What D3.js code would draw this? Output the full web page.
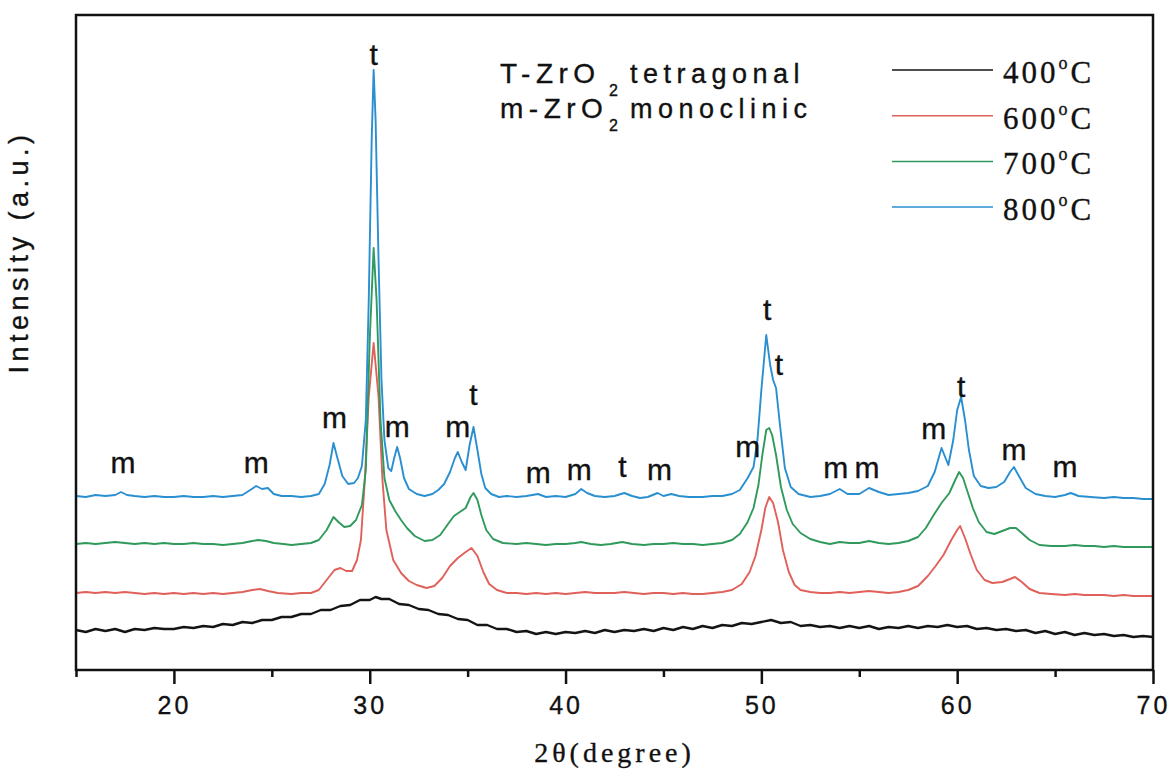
<!DOCTYPE html>
<html>
<head>
<meta charset="utf-8">
<script src="https://cdn.jsdelivr.net/npm/d3@7"></script>
<style>
  body { margin: 0; background: #fff; }
  text { font-family: "Liberation Sans", Arial, sans-serif; fill: #111; stroke: #111; stroke-width: 0.35; }
  .serif { font-family: "Liberation Serif", "Times New Roman", serif; }
</style>
</head>
<body>
<div id="chart"></div>
<script>
// series: [2theta, intensity (a.u.)]
var s400 = [[15,40],[15.5,38],[16,41],[16.5,39],[17,41],[17.5,38],[18,41],[18.5,40],[19,42],[19.5,41],
  [20,41],[20.5,43],[21,42],[21.5,44],[22,43],[22.5,46],[23,45],[23.5,48],[24,47],[24.5,50],[25,50],
  [25.5,53],[26,53],[26.5,56],[27,56],[27.5,60],[28,60],[28.5,64],[29,65],[29.5,70],[30,70],[30.3,73],
  [30.6,71],[31,71],[31.5,66],[32,65],[32.5,61],[33,60],[33.5,56],[34,55],[34.5,51],[35,50],[35.5,45],
  [36,45],[36.5,41],[37,41],[37.5,38],[38,39],[38.5,36],[39,38],[39.5,36],[40,38],[40.5,37],[41,39],
  [41.5,37],[42,40],[42.5,38],[43,40],[43.5,39],[44,41],[44.5,39],[45,42],[45.5,40],[46,43],[46.5,41],
  [47,44],[47.5,42],[48,45],[48.5,44],[49,47],[49.5,46],[50,48],[50.5,50],[51,47],[51.5,48],[52,44],
  [52.5,45],[53,43],[53.5,44],[54,42],[54.5,44],[55,42],[55.5,44],[56,41],[56.5,43],[57,42],[57.5,44],
  [58,42],[58.5,44],[59,43],[59.5,45],[60,43],[60.5,44],[61,41],[61.5,42],[62,40],[62.5,41],[63,39],
  [63.5,40],[64,37],[64.5,39],[65,36],[65.5,38],[66,35],[66.5,37],[67,35],[67.5,36],[68,34],[68.5,35],
  [69,33],[69.5,34],[70,33]];

var s600 = [[15,77],[15.5,78],[16,77],[16.5,78],[17,77],[17.5,78],[18,77],[18.5,76],[19,77],[19.5,76],
  [20,77],[20.5,76],[21,77],[21.5,76],[22,77],[22.5,76],[23,77],[23.5,78],[24,80],[24.4,81],[24.8,79],
  [25.3,77],[26,76],[26.5,77],[27,77],[27.4,80],[27.8,90],[28.2,100],[28.5,102],[28.8,99],[29.1,99],
  [29.35,110],[29.55,130],[29.75,190],[29.95,273],[30.2,327],[30.45,273],[30.65,190],[30.85,140],
  [31.2,110],[31.6,97],[32,89],[32.4,85],[32.9,82],[33.3,84],[33.7,92],[34.1,104],[34.5,112],[34.9,118],
  [35.2,122],[35.5,114],[35.8,98],[36.1,86],[36.5,80],[37,77],[37.5,77],[38,76],[38.5,77],[39,76],
  [39.5,77],[40,76],[40.5,77],[41,78],[41.5,77],[42,77],[42.5,77],[43,78],[43.5,77],[44,76],[44.5,77],
  [45,77],[45.5,76],[46,77],[46.5,76],[47,76],[47.5,77],[48,78],[48.5,80],[49,86],[49.4,98],[49.7,114],
  [50,140],[50.2,162],[50.4,173],[50.6,167],[50.85,148],[51.1,120],[51.4,98],[51.7,85],[52,80],[52.5,78],
  [53,77],[53.5,77],[54,78],[54.5,77],[55,78],[55.5,79],[56,78],[56.5,77],[57,78],[57.5,80],[58,84],
  [58.5,94],[58.9,104],[59.3,115],[59.7,130],[60,140],[60.15,144],[60.4,132],[60.7,115],[61,100],
  [61.4,90],[61.8,87],[62.3,88],[62.7,91],[62.95,93],[63.3,88],[63.7,81],[64.2,77],[64.8,76],[65.5,75],
  [66,76],[66.5,75],[67,75],[67.5,75],[68,74],[68.5,75],[69,74],[69.5,74],[70,74]];

var s700 = [[15,126],[15.5,127],[16,126],[16.5,127],[17,128],[17.5,127],[18,126],[18.5,127],[19,126],
  [19.5,127],[20,126],[20.5,126],[21,127],[21.5,126],[22,126],[22.5,125],[23,126],[23.5,127],[24,129],
  [24.3,130],[24.7,129],[25.1,127],[25.6,126],[26,125],[26.5,126],[27,127],[27.4,130],[27.8,140],
  [28.15,153],[28.4,148],[28.7,143],[29,144],[29.3,150],[29.6,165],[29.8,200],[30,330],[30.2,422],
  [30.35,370],[30.55,250],[30.75,192],[31,170],[31.3,159],[31.6,150],[31.9,142],[32.3,134],[32.8,129],
  [33.2,130],[33.6,135],[34,146],[34.3,154],[34.6,158],[34.9,162],[35.15,173],[35.3,177],[35.5,170],
  [35.7,155],[35.95,140],[36.3,131],[36.8,127],[37.5,126],[38,127],[38.5,126],[39,125],[39.5,126],
  [40,126],[40.5,127],[40.8,128],[41.3,126],[41.8,125],[42.3,126],[42.9,128],[43.4,126],[44,125],
  [44.5,126],[45,126],[45.5,127],[46,126],[46.5,126],[47,125],[47.5,126],[48,127],[48.5,130],[48.9,136],
  [49.3,148],[49.6,162],[49.85,185],[50.05,215],[50.25,240],[50.4,242],[50.55,235],[50.75,215],
  [51,183],[51.3,160],[51.6,146],[52,137],[52.5,131],[53,128],[53.5,126],[54,128],[54.5,127],[55,127],
  [55.5,129],[56,127],[56.5,126],[57,127],[57.5,129],[58,133],[58.4,142],[58.8,155],[59.2,167],
  [59.6,177],[59.9,190],[60.1,198],[60.3,192],[60.5,180],[60.8,162],[61.1,148],[61.5,138],[61.9,136],
  [62.3,139],[62.7,142],[63,142],[63.3,137],[63.7,130],[64.2,125],[64.8,124],[65.5,124],[66,125],
  [66.5,124],[67,124],[67.5,123],[68,124],[68.5,123],[69,123],[69.5,123],[70,123]];

var s800 = [[15,174],[15.5,173],[16,175],[16.5,174],[17,175],[17.3,178],[17.6,175],[18,174],[18.5,173],
  [19,174],[19.5,173],[20,173],[20.5,174],[21,173],[21.5,173],[22,174],[22.5,173],[23,174],[23.5,175],
  [23.9,180],[24.2,184],[24.5,181],[24.8,182],[25.1,176],[25.5,174],[26,174],[26.5,173],[27,174],
  [27.4,176],[27.7,186],[27.95,205],[28.15,227],[28.35,212],[28.6,194],[28.9,186],[29.2,187],[29.4,192],
  [29.6,204],[29.8,250],[29.95,370],[30.1,530],[30.2,600],[30.3,550],[30.45,410],[30.6,290],[30.75,230],
  [30.95,202],[31.1,199],[31.25,212],[31.4,223],[31.55,212],[31.75,192],[32,181],[32.4,176],[32.8,174],
  [33.2,176],[33.5,180],[33.8,186],[34.1,198],[34.35,212],[34.5,218],[34.7,208],[34.9,200],[35.1,225],
  [35.3,243],[35.5,220],[35.7,196],[35.9,182],[36.2,176],[36.6,173],[37,174],[37.5,173],[38,174],
  [38.6,176],[39,173],[39.5,174],[40,173],[40.5,176],[40.8,181],[41.1,177],[41.5,174],[42,173],
  [42.5,174],[43,177],[43.4,174],[43.8,172],[44.2,173],[44.7,177],[45,174],[45.4,176],[45.8,174],
  [46.3,173],[47,173],[47.5,174],[48,174],[48.5,176],[48.9,180],[49.3,192],[49.6,203],[49.8,230],
  [50,280],[50.25,335],[50.45,305],[50.6,290],[50.75,282],[50.95,245],[51.2,202],[51.5,183],[51.9,176],
  [52.5,173],[53,174],[53.5,176],[54,181],[54.4,176],[55,176],[55.5,182],[56,178],[56.5,175],[57,176],
  [57.5,177],[58,179],[58.5,184],[58.85,198],[59.2,222],[59.55,205],[59.8,230],[60,260],[60.2,273],
  [60.4,250],[60.6,220],[60.85,194],[61.2,184],[61.6,182],[62,183],[62.4,188],[62.7,198],[62.9,203],
  [63.15,194],[63.5,182],[64,176],[64.5,174],[65,173],[65.5,175],[65.8,177],[66.2,174],[66.8,173],
  [67.5,172],[68,173],[68.5,172],[69,172],[69.5,171],[70,171]];

var seriesNames = ["400°C", "600°C", "700°C", "800°C"];
var seriesData = [s400, s600, s700, s800];
var seriesColors = ["#141414", "#e0605a", "#2f9a5c", "#2a8fd0"];

var majorTicks = [20, 30, 40, 50, 60, 70];
var minorTicks = [15, 25, 35, 45, 55, 65];

// peak labels: [2theta, intensity where label sits, phase]
var peakLabels = [[17.4,197,"m"],[24.2,197,"m"],[28.2,242,"m"],[31.4,233,"m"],[34.5,233,"m"],
  [35.3,265,"t"],[30.2,605,"t"],[38.6,187,"m"],[40.7,190,"m"],[42.9,193,"t"],[44.8,190,"m"],
  [49.3,213,"m"],[50.3,350,"t"],[50.9,295,"t"],[53.8,192,"m"],[55.4,192,"m"],[58.8,231,"m"],
  [60.2,273,"t"],[62.9,210,"m"],[65.5,193,"m"]];

// phase notes: formula, phase name
var notes = [["T-ZrO", "tetragonal"], ["m-ZrO", "monoclinic"]];

var margin = {top: 15, right: 16, bottom: 99, left: 76},
    width = 1169 - margin.left - margin.right,
    height = 769 - margin.top - margin.bottom;

var svg = d3.select("#chart")
  .append("svg")
    .attr("width", 1169)
    .attr("height", 769)
  .append("g")
    .attr("transform", "translate(" + margin.left + "," + margin.top + ")");

var x = d3.scaleLinear()
    .domain([15, 70])
    .range([0, width]);

var y = d3.scaleLinear()
    .domain([0, 655])
    .range([height, 0]);

// minor ticks
svg.append("g")
  .attr("transform", "translate(0," + height + ")")
  .call(d3.axisBottom(x).tickValues(minorTicks).tickSize(7).tickFormat(""))
  .call(function(g) { g.select(".domain").remove(); })
  .selectAll("line").attr("stroke", "#111").attr("stroke-width", 2.5);

// major ticks + labels
var xAxis = svg.append("g")
  .attr("transform", "translate(0," + height + ")")
  .call(d3.axisBottom(x).tickValues(majorTicks).tickSize(14).tickPadding(12).tickFormat(d3.format("d")))
  .call(function(g) { g.select(".domain").remove(); });
xAxis.selectAll("line").attr("stroke", "#111").attr("stroke-width", 2.5);
xAxis.selectAll("text")
  .attr("font-family", "'Liberation Sans', Arial, sans-serif")
  .attr("font-size", 25)
  .attr("letter-spacing", 3)
  .attr("fill", "#111");

// curves
var line = d3.line()
  .x(function(d) { return x(d[0]) })
  .y(function(d) { return y(d[1]) });

svg.append("g")
  .selectAll("path")
  .data(seriesData)
  .enter()
  .append("path")
    .attr("fill", "none")
    .attr("stroke", function(d, i) { return seriesColors[i] })
    .attr("stroke-width", function(d, i) { return i == 0 ? 2.4 : 1.9 })
    .attr("stroke-linejoin", "round")
    .attr("d", line);

// frame
svg.append("rect")
  .attr("width", width)
  .attr("height", height)
  .attr("fill", "none")
  .attr("stroke", "#111")
  .attr("stroke-width", 2.5);

// peak labels
svg.append("g")
  .selectAll("text")
  .data(peakLabels)
  .enter()
  .append("text")
    .attr("x", function(d) { return x(d[0]) })
    .attr("y", function(d) { return y(d[1]) })
    .attr("text-anchor", "middle")
    .attr("font-size", 30)
    .text(function(d) { return d[2] });

// phase notes (formula, subscript and name set as separate pieces)
notes.forEach(function(n, i) {
  var g = svg.append("g").attr("transform", "translate(424," + (68 + i * 35) + ")");
  g.append("text")
    .attr("font-size", 28)
    .attr("letter-spacing", 5.5)
    .text(n[0]);
  g.append("text")
    .attr("x", 109)
    .attr("y", 13)
    .attr("font-size", 16)
    .text("2");
  g.append("text")
    .attr("x", 130)
    .attr("font-size", 27)
    .attr("letter-spacing", 5.5)
    .text(n[1]);
});

// legend
var legend = svg.append("g")
  .attr("transform", "translate(816,55)");
seriesNames.forEach(function(name, i) {
  var row = legend.append("g").attr("transform", "translate(0," + (i * 45.7) + ")");
  row.append("line")
    .attr("x1", 0).attr("x2", 101)
    .attr("stroke", seriesColors[i])
    .attr("stroke-width", 1.5);
  var t = row.append("text")
    .attr("class", "serif")
    .attr("x", 111)
    .attr("y", 13)
    .attr("font-size", 31)
    .attr("letter-spacing", 3);
  t.append("tspan").text(name.slice(0, 3));
  t.append("tspan").attr("font-size", 18).attr("dy", -14).text("o");
  t.append("tspan").attr("dy", 14).text("C");
});

// axis titles
svg.append("text")
  .attr("class", "serif")
  .attr("x", width / 2)
  .attr("y", height + 92)
  .attr("text-anchor", "middle")
  .attr("font-size", 28)
  .attr("letter-spacing", 4)
  .text("2θ(degree)");

svg.append("text")
  .attr("transform", "translate(-48," + (237) + ") rotate(-90)")
  .attr("text-anchor", "middle")
  .attr("font-size", 27)
  .attr("letter-spacing", 4.5)
  .text("Intensity (a.u.)");
</script>
</body>
</html>
